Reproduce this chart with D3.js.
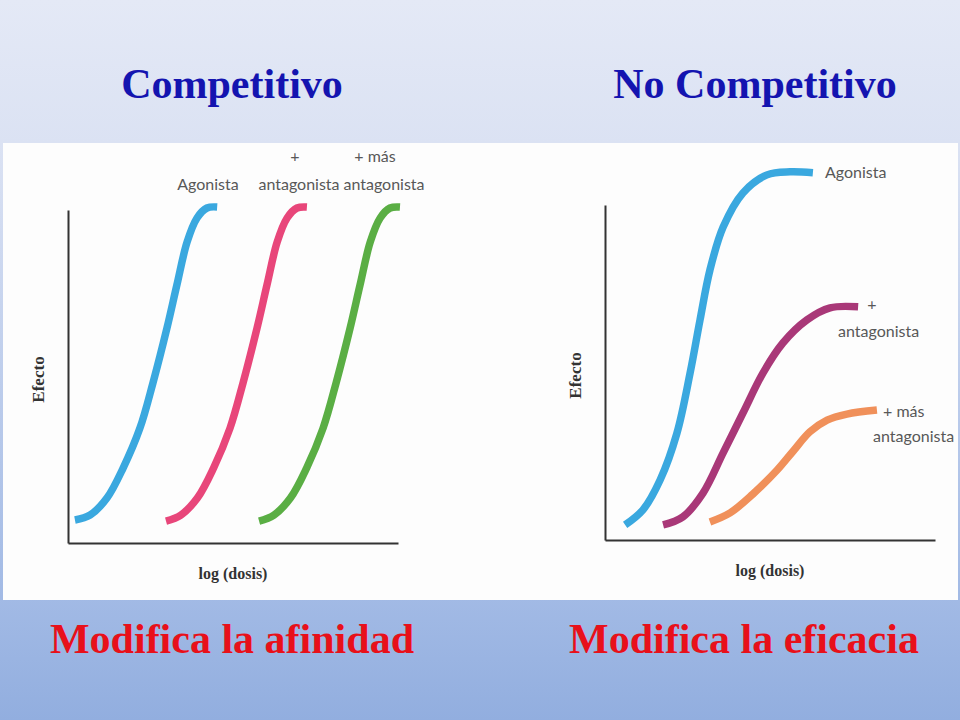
<!DOCTYPE html>
<html><head><meta charset="utf-8">
<script src="https://cdn.jsdelivr.net/npm/d3@7"></script>
<style>html,body{margin:0;padding:0;}svg{display:block;}</style>
</head><body>
<svg id="c" width="960" height="720"></svg>
<script>
// ---- data (log dosis units 0..10, efecto 0..100) ----
const leftAgonistaX   = [0.21,0.67,1.18,1.67,2.18,2.58,3.00,3.30,3.61,3.91,4.21,4.52];
const leftAgonistaY   = [6.9,8.4,13.5,22.5,34.5,48.3,64.6,77.5,90.4,97.6,100.6,100.9];
const leftAntagX      = [2.97,3.42,3.92,4.41,4.91,5.31,5.73,6.03,6.34,6.64,6.94,7.24];
const leftAntagY      = [6.6,8.4,13.5,22.5,34.5,48.3,64.6,77.5,90.4,97.6,100.6,100.9];
const leftMasAntagX   = [5.79,6.24,6.74,7.23,7.73,8.13,8.55,8.85,9.16,9.46,9.76,10.06];
const leftMasAntagY   = [6.6,8.4,13.5,22.5,34.5,48.3,64.6,77.5,90.4,97.6,100.6,100.9];

const rightAgonistaX  = [0.61,1.15,1.67,2.18,2.58,2.88,3.18,3.58,4.18,4.91,5.61,6.30];
const rightAgonistaY  = [4.5,9.0,17.9,31.9,49.9,65.7,80.6,93.4,103.6,109.0,109.9,109.6];
const rightAntagX     = [1.76,2.36,2.97,3.58,4.18,4.79,5.39,6.12,6.82,7.67];
const rightAntagY     = [4.5,6.9,14.0,26.0,37.9,49.9,58.8,65.7,69.3,69.6];
const rightMasAntagX  = [3.18,3.79,4.48,5.21,5.70,6.21,6.73,7.33,8.24];
const rightMasAntagY  = [5.4,8.1,13.7,20.8,26.5,32.3,35.8,37.6,38.8];

const titles = ["Competitivo","No Competitivo"];
const subtitles = ["Modifica la afinidad","Modifica la eficacia"];
const xLabel = "log (dosis)";
const yLabel = "Efecto";

const svg = d3.select("#c");
// background gradient
const defs = svg.append("defs");
const g = defs.append("linearGradient").attr("id","bg").attr("x1",0).attr("y1",0).attr("x2",0).attr("y2",1);
g.append("stop").attr("offset","0%").attr("stop-color","#e4e9f6");
g.append("stop").attr("offset","20%").attr("stop-color","#dbe2f3");
g.append("stop").attr("offset","83%").attr("stop-color","#a2bae5");
g.append("stop").attr("offset","100%").attr("stop-color","#92aedf");
svg.append("rect").attr("width",960).attr("height",720).attr("fill","url(#bg)");
svg.append("rect").attr("x",3).attr("y",143).attr("width",955).attr("height",457).attr("fill","#fdfdfd");

// titles
const titleX = [232, 755];
svg.selectAll("text.title").data(titles).join("text").attr("class","title")
  .attr("x",(d,i)=>titleX[i]).attr("y",98).attr("text-anchor","middle")
  .attr("font-family","Liberation Serif, Times New Roman, serif").attr("font-weight","bold")
  .attr("font-size",42).attr("fill","#1414b0").text(d=>d);
const subX = [232, 744];
svg.selectAll("text.sub").data(subtitles).join("text").attr("class","sub")
  .attr("x",(d,i)=>subX[i]).attr("y",653).attr("text-anchor","middle")
  .attr("font-family","Liberation Serif, Times New Roman, serif").attr("font-weight","bold")
  .attr("font-size",42).attr("fill","#e8101a").text(d=>d);

function panel(cfg){
  const x = d3.scaleLinear().domain([0,10]).range([cfg.x0, cfg.x0+330]);
  const y = d3.scaleLinear().domain([0,100]).range([cfg.yBase, cfg.yTop]);
  const gp = svg.append("g");
  gp.append("g").attr("transform",`translate(0,${cfg.yBase})`)
    .call(d3.axisBottom(x).tickValues([]).tickSizeOuter(0));
  gp.append("g").attr("transform",`translate(${cfg.x0},0)`)
    .call(d3.axisLeft(y).tickValues([]).tickSizeOuter(0));
  gp.selectAll(".domain").attr("stroke","#333").attr("stroke-width",2);
  const line = d3.line().x(d=>x(d[0])).y(d=>y(d[1])).curve(d3.curveCatmullRom.alpha(0.5));
  cfg.series.forEach(s=>{
    gp.append("path").datum(d3.zip(s.xs,s.ys)).attr("d",line)
      .attr("fill","none").attr("stroke",s.color).attr("stroke-width",7.5).attr("stroke-linecap","butt");
  });
  const lf = "Lato, Liberation Sans, sans-serif";
  cfg.labels.forEach(l=>{
    gp.append("text").attr("x",l.x).attr("y",l.y).attr("text-anchor",l.anchor||"middle")
      .attr("font-family",lf).attr("font-size",16).attr("fill","#585858").text(l.t);
  });
  gp.append("text").attr("transform",`translate(${cfg.x0-24},${(cfg.yBase+cfg.yTop)/2+3}) rotate(-90)`)
    .attr("text-anchor","middle").attr("font-family","Liberation Serif, serif").attr("font-weight","bold")
    .attr("font-size",17).attr("fill","#333").text(yLabel);
  gp.append("text").attr("x",x(5)).attr("y",cfg.yBase+36).attr("text-anchor","middle")
    .attr("font-family","Liberation Serif, serif").attr("font-weight","bold")
    .attr("font-size",16).attr("fill","#333").text(xLabel);
}

panel({x0:68, yBase:543, yTop:210,
  series:[{xs:leftAgonistaX,ys:leftAgonistaY,color:"#3aa8df"},
          {xs:leftAntagX,ys:leftAntagY,color:"#e8467a"},
          {xs:leftMasAntagX,ys:leftMasAntagY,color:"#5aae44"}],
  labels:[{t:"Agonista",x:208,y:190},{t:"+",x:295,y:162},{t:"antagonista",x:299,y:190},
          {t:"+ más",x:375,y:162},{t:"antagonista",x:384,y:190}]});

panel({x0:605, yBase:540, yTop:205,
  series:[{xs:rightAgonistaX,ys:rightAgonistaY,color:"#3aa8df"},
          {xs:rightAntagX,ys:rightAntagY,color:"#a93878"},
          {xs:rightMasAntagX,ys:rightMasAntagY,color:"#f0905a"}],
  labels:[{t:"Agonista",x:825,y:178,anchor:"start"},{t:"+",x:872,y:310},{t:"antagonista",x:838,y:337,anchor:"start"},
          {t:"+ más",x:883,y:417,anchor:"start"},{t:"antagonista",x:873,y:442,anchor:"start"}]});
</script>
</body></html>
